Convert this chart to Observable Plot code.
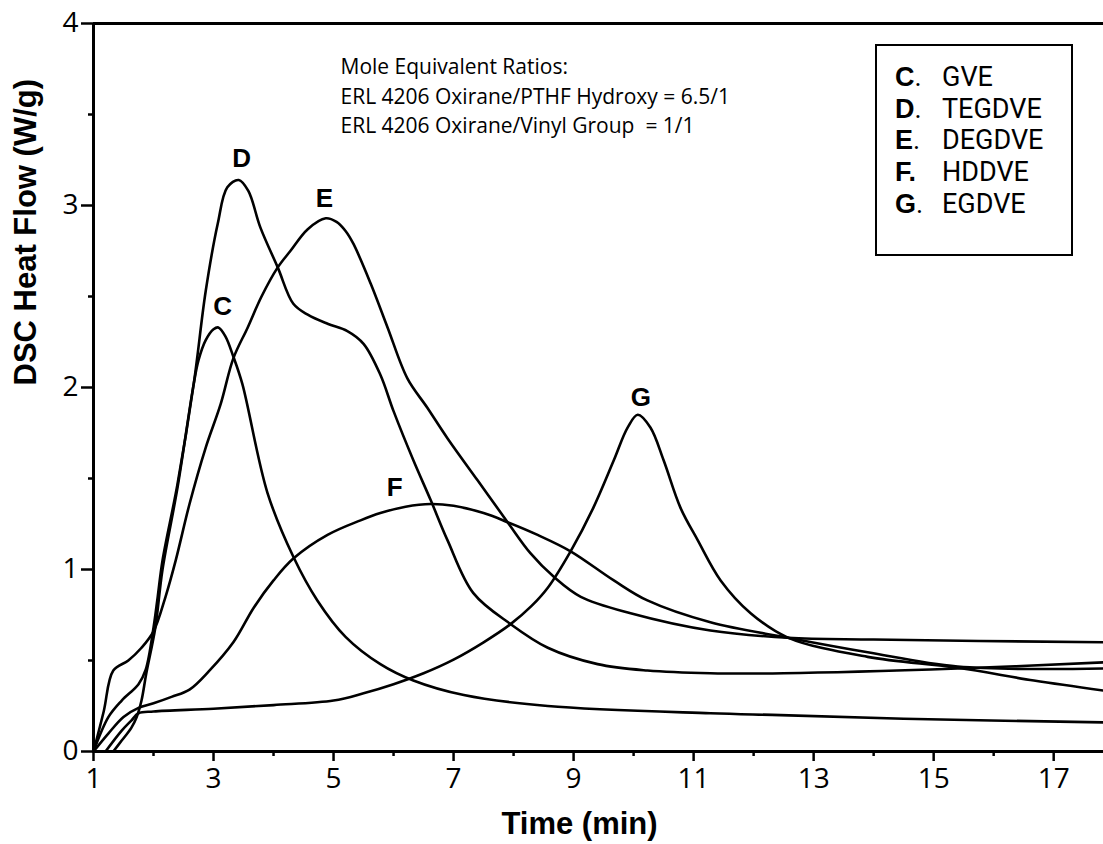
<!DOCTYPE html>
<html>
<head>
<meta charset="utf-8">
<script src="https://cdn.jsdelivr.net/npm/d3@7"></script>
<script src="https://cdn.jsdelivr.net/npm/@observablehq/plot@0.6"></script>
<style>
  body { margin: 0; background: #fff; }
  #wrap { position: relative; width: 1103px; height: 844px; overflow: hidden; background: #fff; }
  #wrap svg { display: block; }
  #legend {
    position: absolute; left: 875px; top: 44px; width: 198px; height: 212px;
    box-sizing: border-box; border: 2px solid #000; background: #fff;
    padding: 16px 0 0 18px; font-family: Roboto, "Open Sans", sans-serif; font-size: 27px;
    line-height: 31.7px; color: #000;
  }
  #legend .row { white-space: nowrap; height: 31.7px; }
  #legend .key { display: inline-block; width: 47px; }
  #legend .let { font-family: "Liberation Sans", Arial, sans-serif; font-weight: bold; font-size: 27px; }
</style>
</head>
<body>
<div id="wrap"></div>
<script>
// ---- data ----
const timeC = [1.33,1.47,1.63,1.72,1.8,1.88,2.03,2.15,2.4,2.67,2.75,2.87,3.0,3.08,3.2,3.33,3.48,3.9,4.33,4.73,5.2,5.78,6.33,7.17,8.57,11.28,12.45,14.5,17.83];
const heatC = [0,0.06,0.13,0.19,0.28,0.43,0.68,1.0,1.45,2.02,2.15,2.26,2.32,2.33,2.28,2.17,2.02,1.42,1.07,0.83,0.63,0.48,0.39,0.31,0.25,0.21,0.2,0.18,0.16];

const timeD = [1,1.25,1.47,1.75,1.87,2.0,2.07,2.15,2.4,2.67,2.87,3.07,3.23,3.42,3.58,3.78,4.07,4.33,4.57,4.9,5.23,5.5,5.78,6.0,6.33,6.62,6.9,7.33,7.95,8.57,9.4,10.23,11.28,12.5,15.4,17.83];
const heatD = [0,0.19,0.28,0.37,0.45,0.68,0.85,1.05,1.47,2.02,2.53,2.9,3.1,3.14,3.08,2.88,2.66,2.46,2.4,2.35,2.31,2.24,2.07,1.87,1.6,1.38,1.16,0.87,0.7,0.57,0.48,0.445,0.43,0.43,0.456,0.49];

const timeE = [1,1.17,1.33,1.58,1.8,2.0,2.2,2.37,2.6,2.87,3.12,3.33,3.57,3.8,4.07,4.28,4.57,4.87,5.05,5.2,5.33,5.62,5.9,6.23,6.56,6.9,7.4,7.9,8.28,8.67,9.12,9.95,11.28,12.57,14,17.83];
const heatE = [0,0.22,0.445,0.5,0.57,0.66,0.85,1.05,1.36,1.67,1.91,2.16,2.33,2.5,2.66,2.75,2.87,2.93,2.91,2.86,2.79,2.57,2.33,2.05,1.89,1.72,1.49,1.26,1.09,0.96,0.85,0.76,0.665,0.625,0.615,0.6];

const timeF = [1,1.25,1.5,1.75,2.0,2.3,2.6,2.92,3.33,3.67,4.0,4.33,4.9,5.45,5.78,6.2,6.62,7.0,7.5,7.9,8.4,8.95,9.67,10.23,11.28,12.57,13.9,15.4,17.83];
const heatF = [0,0.1,0.19,0.24,0.265,0.3,0.34,0.44,0.6,0.79,0.94,1.06,1.19,1.27,1.31,1.345,1.36,1.35,1.31,1.26,1.19,1.1,0.94,0.83,0.71,0.625,0.545,0.467,0.456];

const timeG = [1.2,1.47,1.63,1.75,2.0,3.0,4.0,5.0,5.5,6.0,6.5,7.0,7.5,7.95,8.3,8.57,8.95,9.33,9.67,9.9,10.07,10.28,10.5,10.78,11.07,11.45,11.95,12.57,13.9,15.4,16.67,17.83];
const heatG = [0,0.115,0.17,0.21,0.22,0.235,0.255,0.28,0.32,0.37,0.43,0.505,0.6,0.7,0.8,0.9,1.1,1.34,1.6,1.78,1.85,1.78,1.6,1.34,1.16,0.94,0.76,0.626,0.52,0.46,0.39,0.335];

const peakLetters = ["C","D","E","F","G"];
const peakLabelTime = [3.15,3.47,4.85,6.02,10.12];
const peakLabelHeat = [2.445,3.26,3.04,1.45,1.945];
const legendNames = ["GVE","TEGDVE","DEGDVE","HDDVE","EGDVE"];

const xMajorTicks = [1,3,5,7,9,11,13,15,17];
const xMinorTicks = [2,4,6,8,10,12,14,16];
const yMajorTicks = [0,1,2,3,4];
const yMinorTicks = [0.5,1.5,2.5,3.5];

const noteLines = ["Mole Equivalent Ratios:", "ERL 4206 Oxirane/PTHF Hydroxy = 6.5/1", "ERL 4206 Oxirane/Vinyl Group  = 1/1"];
const xTitle = "Time (min)";
const yTitle = "DSC Heat Flow (W/g)";

// ---- build table ----
const seriesList = [
  {key: "C", t: timeC, v: heatC},
  {key: "D", t: timeD, v: heatD},
  {key: "E", t: timeE, v: heatE},
  {key: "F", t: timeF, v: heatF},
  {key: "G", t: timeG, v: heatG}
];
const rows = seriesList.flatMap(s => s.t.map((t, i) => ({series: s.key, time: t, heat: s.v[i]})));

const tickFont = "Open Sans, sans-serif";
const boldFont = "Liberation Sans, Arial, sans-serif";

const chart = Plot.plot({
  width: 1103,
  height: 844,
  marginLeft: 93,
  marginRight: 0,
  marginTop: 23,
  marginBottom: 93,
  x: {domain: [1, 17.83]},
  y: {domain: [0, 4]},
  style: {background: "white", color: "black", fontFamily: tickFont, overflow: "visible"},
  marks: [
    Plot.axisX({ticks: xMajorTicks, tickSize: 10, tickPadding: 7, tickFormat: d => String(d), fontSize: 28, fontFamily: tickFont, strokeWidth: 2.5, label: null}),
    Plot.axisX({ticks: xMinorTicks, tickSize: 5, tickFormat: () => "", strokeWidth: 2.5, label: null}),
    Plot.axisY({ticks: yMajorTicks, tickSize: 12, tickPadding: 3, tickFormat: d => String(d), fontSize: 28, fontFamily: tickFont, strokeWidth: 2.5, label: null}),
    Plot.axisY({ticks: yMinorTicks, tickSize: 5, tickFormat: () => "", strokeWidth: 2.5, label: null}),
    Plot.ruleY([0], {strokeWidth: 3}),
    Plot.ruleY([4], {strokeWidth: 3}),
    Plot.ruleX([1], {strokeWidth: 3}),
    Plot.line(rows, {x: "time", y: "heat", z: "series", curve: "catmull-rom", stroke: "black", strokeWidth: 2.6}),
    Plot.text(peakLetters, {
      x: (d, i) => peakLabelTime[i], y: (d, i) => peakLabelHeat[i], text: d => d,
      fontSize: 26, fontWeight: "bold", fontFamily: boldFont, fill: "black"
    }),
    Plot.text([noteLines.join("\n")], {
      frameAnchor: "top-left", text: d => d, textAnchor: "start", lineAnchor: "top",
      dx: 247, dy: 30, fontSize: 21, lineHeight: 1.4, fontFamily: tickFont, fill: "black"
    }),
    Plot.text([xTitle], {
      frameAnchor: "bottom", text: d => d, dx: -19, dy: 82,
      fontSize: 31, fontWeight: "bold", fontFamily: boldFont, fill: "black"
    }),
    Plot.text([yTitle], {
      frameAnchor: "left", text: d => d, rotate: -90, dx: -67, dy: -2,
      fontSize: 31, fontWeight: "bold", fontFamily: boldFont, fill: "black"
    })
  ]
});

const wrap = document.getElementById("wrap");
wrap.appendChild(chart);

// legend box
const legend = document.createElement("div");
legend.id = "legend";
peakLetters.forEach((L, i) => {
  const row = document.createElement("div");
  row.className = "row";
  const key = document.createElement("span");
  key.className = "key";
  const let_ = document.createElement("span");
  let_.className = "let";
  let_.textContent = L;
  const dot = document.createElement("span");
  dot.textContent = ".";
  if (L === "F") dot.className = "let";
  key.appendChild(let_);
  key.appendChild(dot);
  row.appendChild(key);
  row.appendChild(document.createTextNode(legendNames[i]));
  legend.appendChild(row);
});
wrap.appendChild(legend);
</script>
</body>
</html>
